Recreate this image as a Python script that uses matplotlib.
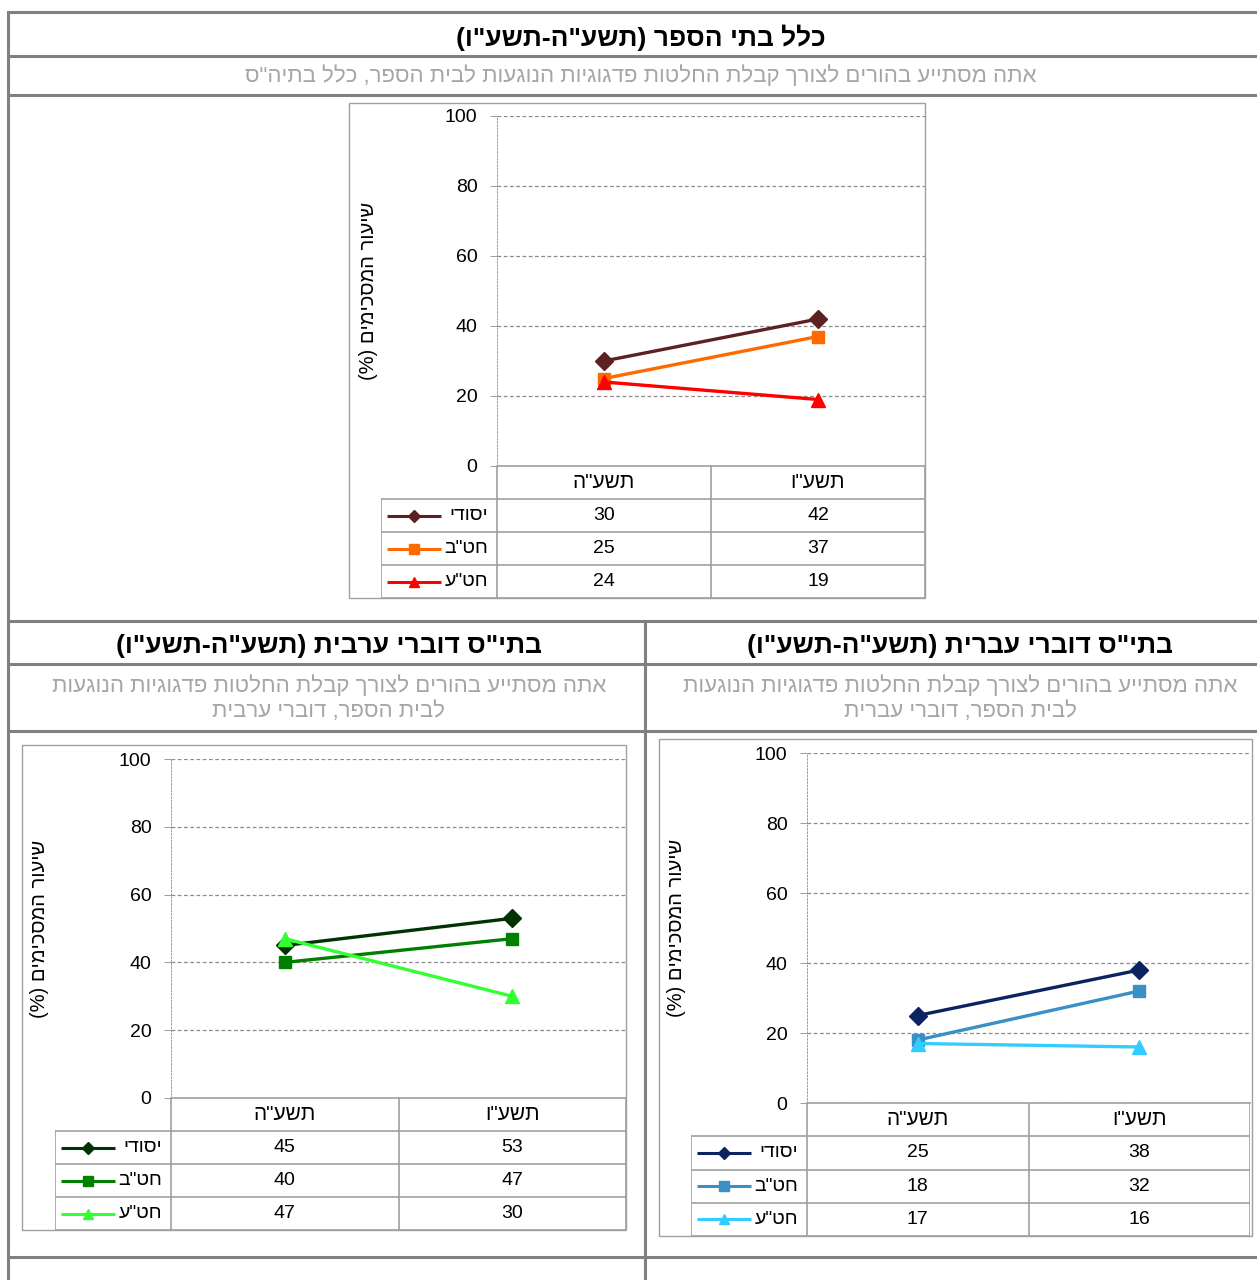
import matplotlib
matplotlib.use('Agg')
import matplotlib.pyplot as plt
from matplotlib.patches import Rectangle

plt.rcParams['font.family'] = ['Liberation Sans', 'DejaVu Sans']

# Data
categories = ['תשע"ה', 'תשע"ו']
series_names = ['יסודי', 'חט"ב', 'חט"ע']
all_values = [[30, 42], [25, 37], [24, 19]]
hebrew_values = [[25, 38], [18, 32], [17, 16]]
arabic_values = [[45, 53], [40, 47], [47, 30]]

all_colors = ['#5C2222', '#FF6A00', '#FF0000']
hebrew_colors = ['#0B2461', '#3A8FC4', '#33CCFF']
arabic_colors = ['#003300', '#008000', '#33FF33']
markers = ['D', 's', '^']

main_title = 'כלל בתי הספר (תשע"ה-תשע"ו)'
main_sub = 'אתה מסתייע בהורים לצורך קבלת החלטות פדגוגיות הנוגעות לבית הספר, כלל בתיה"ס'
heb_title = 'בתי"ס דוברי עברית (תשע"ה-תשע"ו)'
heb_sub = ['אתה מסתייע בהורים לצורך קבלת החלטות פדגוגיות הנוגעות', 'לבית הספר, דוברי עברית']
arb_title = 'בתי"ס דוברי ערבית (תשע"ה-תשע"ו)'
arb_sub = ['אתה מסתייע בהורים לצורך קבלת החלטות פדגוגיות הנוגעות', 'לבית הספר, דוברי ערבית']
ylabel = 'שיעור המסכימים (%)'


def vis(s):
    # matplotlib has no bidi support: turn logical RTL text into visual order
    swap = {'(': ')', ')': '('}
    return ''.join(swap.get(c, c) for c in reversed(s))


W, H = 1257, 1280
fig = plt.figure(figsize=(W / 100, H / 100), dpi=100)

bg = fig.add_axes([0, 0, 1, 1])
bg.set_xlim(0, W)
bg.set_ylim(H, 0)
bg.axis('off')


def px_axes(x0, y0, x1, y1):
    return fig.add_axes([x0 / W, 1 - y1 / H, (x1 - x0) / W, (y1 - y0) / H])


# page table grid
grid_col = '#808080'
for y in [12, 56, 95, 621, 664, 731, 1257]:
    bg.plot([8, W], [y, y], color=grid_col, lw=2.2, solid_capstyle='butt')
bg.plot([8, 8], [12, H], color=grid_col, lw=2.2)
bg.plot([645, 645], [621, H], color=grid_col, lw=2.2)

# headings
tsize, ssize = 19, 16
bg.text(641, 38, vis(main_title), ha='center', va='center', fontsize=tsize, fontweight='bold')
bg.text(641, 76, vis(main_sub), ha='center', va='center', fontsize=ssize, color='#A6A6A6')
bg.text(960, 646, vis(heb_title), ha='center', va='center', fontsize=tsize, fontweight='bold')
bg.text(329, 646, vis(arb_title), ha='center', va='center', fontsize=tsize, fontweight='bold')
for i, line in enumerate(heb_sub):
    bg.text(960, 686 + 26 * i, vis(line), ha='center', va='center', fontsize=ssize, color='#A6A6A6')
for i, line in enumerate(arb_sub):
    bg.text(329, 686 + 26 * i, vis(line), ha='center', va='center', fontsize=ssize, color='#A6A6A6')


def draw_chart(box, plot, lx0, values, colors, label_x):
    bx0, by0, bx1, by1 = box
    px0, py0, px1, py1 = plot
    bg.add_patch(Rectangle((bx0, by0), bx1 - bx0, by1 - by0, fill=False,
                           edgecolor='#A0A0A0', lw=1))

    ax = px_axes(px0, py0, px1, py1)
    ax.set_xlim(-0.5, 1.5)
    ax.set_ylim(0, 100)
    ax.set_yticks(range(0, 101, 20))
    ax.set_xticks([])
    ax.yaxis.grid(True, color='#8C8C8C', lw=0.9, linestyle=(0, (3, 2)))
    ax.set_axisbelow(True)
    for s in ['top', 'right']:
        ax.spines[s].set_visible(False)
    ax.spines['left'].set_color('#8C8C8C')
    ax.spines['left'].set_linewidth(0.6)
    ax.spines['left'].set_linestyle((0, (2, 2)))
    ax.spines['bottom'].set_color('#A0A0A0')
    ax.spines['bottom'].set_linewidth(1.2)
    ax.tick_params(axis='y', length=5, color='#8C8C8C', width=0.6, pad=9, labelsize=14)
    ax.patch.set_alpha(0)

    x = range(len(categories))
    for vals, c, m in zip(values, colors, markers):
        ms = {'D': 9, 's': 9, '^': 10}[m]
        ax.plot(x, vals, color=c, lw=2.4, marker=m, markersize=ms, clip_on=False)

    bg.text(label_x, (py0 + py1) / 2, vis(ylabel), rotation=90, ha='center',
            va='center', fontsize=14.5)

    # data table under the plot
    unit = (px1 - px0) / 2
    xl = -0.5 - (px0 - lx0) / unit
    tax = px_axes(lx0, py1, px1, by1)
    tax.set_xlim(xl, 1.5)
    tax.set_ylim(4, 0)
    tax.axis('off')
    lc = '#A0A0A0'
    tax.vlines([-0.5, 0.5, 1.5], 0, 4, color=lc, lw=1.2)
    tax.vlines([xl], 1, 4, color=lc, lw=1.2)
    tax.hlines([1, 2, 3, 4], xl, 1.5, color=lc, lw=1.2)
    for i, cat in enumerate(categories):
        tax.text(i, 0.5, vis(cat), ha='center', va='center', fontsize=15)
    for r, (name, vals, c, m) in enumerate(zip(series_names, values, colors, markers)):
        yc = r + 1.5
        for i, v in enumerate(vals):
            tax.text(i, yc, str(v), ha='center', va='center', fontsize=14)
        s0 = xl + 6 / unit
        s1 = xl + 60 / unit
        tax.plot([s0, s1], [yc, yc], color=c, lw=2.2, solid_capstyle='butt')
        ms = {'D': 6, 's': 7.5, '^': 7.5}[m]
        tax.plot([(s0 + s1) / 2], [yc], color=c, marker=m, markersize=ms)
        tax.text(-0.5 - 9 / unit, yc, vis(name), ha='right', va='center', fontsize=14)


draw_chart((349, 103, 925, 598), (497, 116, 925, 466), 381, all_values, all_colors, 368)
draw_chart((659, 739, 1252, 1236), (807, 753, 1250, 1103), 691, hebrew_values, hebrew_colors, 677)
draw_chart((22, 745, 626, 1230), (171, 759, 626, 1098), 55, arabic_values, arabic_colors, 40)

fig.savefig('out.png', dpi=100)
